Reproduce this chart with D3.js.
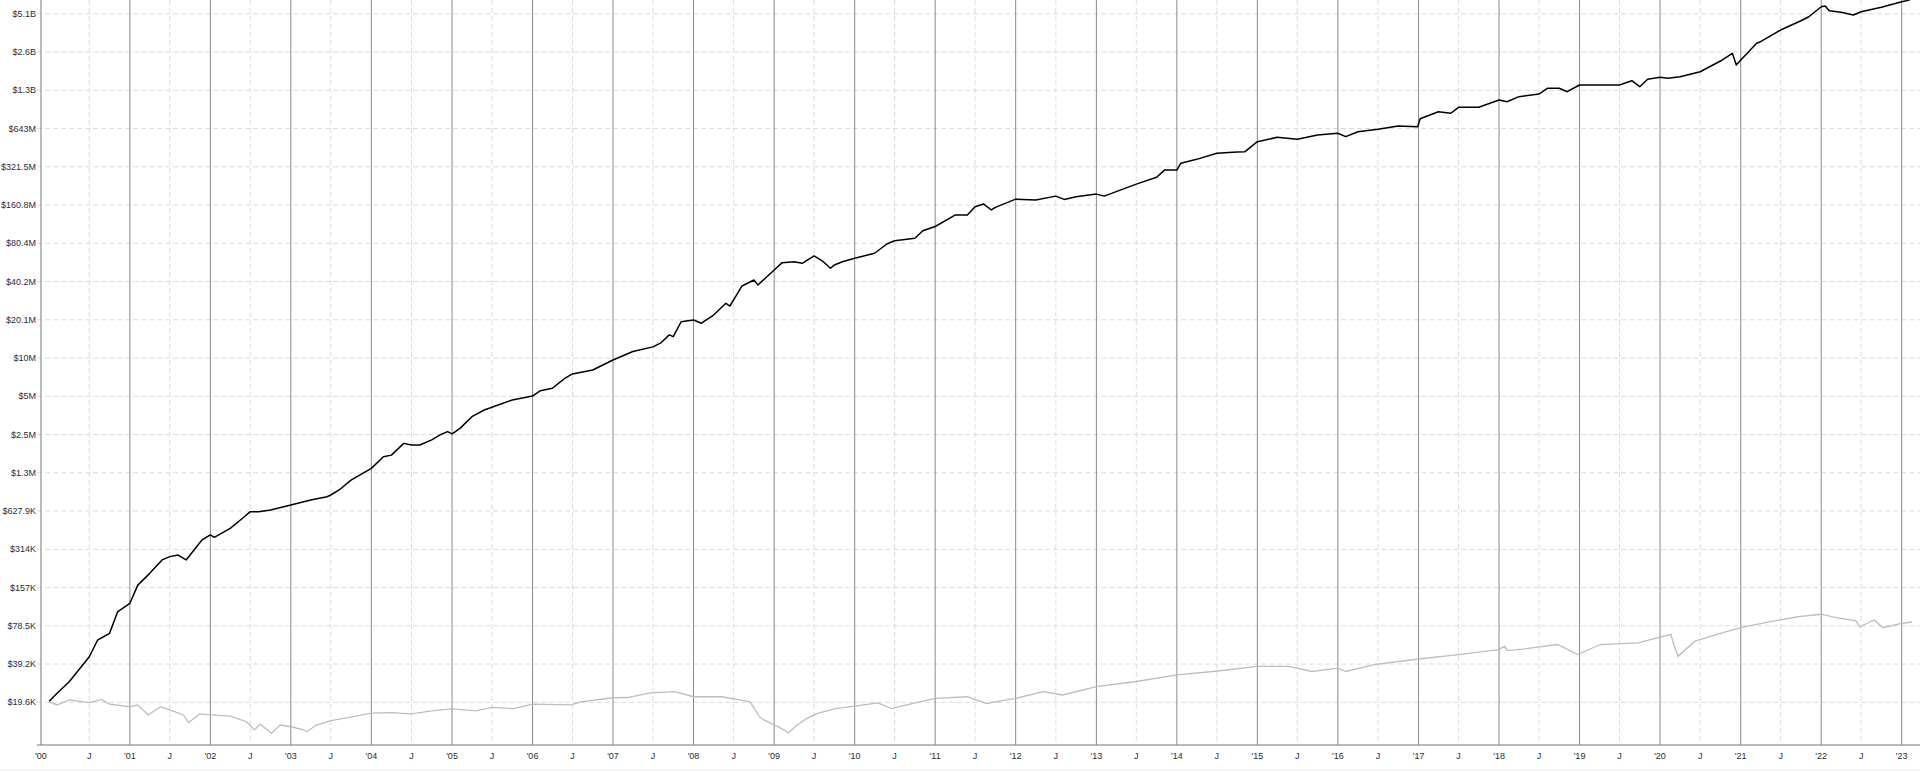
<!DOCTYPE html>
<html>
<head>
<meta charset="utf-8">
<script src="https://cdn.jsdelivr.net/npm/d3@7"></script>
<style>
  body { margin: 0; background: #fff; }
  text { font-family: "Liberation Sans", Arial, sans-serif; font-size: 9px; }
</style>
</head>
<body>
<svg class="svgChart" width="1920" height="771"></svg>
<script>
// y axis: each tick doubles the previous one
const yTickValues = [19623, 39246, 78492, 156984, 313968, 627936, 1255872, 2511744,
  5023488, 10046976, 20093952, 40187904, 80375808, 160751616, 321503232,
  643006464, 1286012928, 2572025856, 5144051712];
const yTickLabels = ['$19.6K', '$39.2K', '$78.5K', '$157K', '$314K', '$627.9K', '$1.3M',
  '$2.5M', '$5M', '$10M', '$20.1M', '$40.2M', '$80.4M', '$160.8M', '$321.5M',
  '$643M', '$1.3B', '$2.6B', '$5.1B'];

// x axis: years with a "J" (July) tick in between
const yearTicks = ['2001-01-01', '2002-01-01', '2003-01-01', '2004-01-01', '2005-01-01',
  '2006-01-01', '2007-01-01', '2008-01-01', '2009-01-01', '2010-01-01', '2011-01-01',
  '2012-01-01', '2013-01-01', '2014-01-01', '2015-01-01', '2016-01-01', '2017-01-01',
  '2018-01-01', '2019-01-01', '2020-01-01', '2021-01-01', '2022-01-01', '2023-01-01'];
const yearLabels = ["'01", "'02", "'03", "'04", "'05", "'06", "'07", "'08", "'09", "'10",
  "'11", "'12", "'13", "'14", "'15", "'16", "'17", "'18", "'19", "'20", "'21", "'22", "'23"];
const firstLabel = "'00";
const julyTicks = ['2000-07-01', '2001-07-01', '2002-07-01', '2003-07-01', '2004-07-01',
  '2005-07-01', '2006-07-01', '2007-07-01', '2008-07-01', '2009-07-01', '2010-07-01',
  '2011-07-01', '2012-07-01', '2013-07-01', '2014-07-01', '2015-07-01', '2016-07-01',
  '2017-07-01', '2018-07-01', '2019-07-01', '2020-07-01', '2021-07-01', '2022-07-01'];
const julyLabel = 'J';

// strategy (black line)
const strategyDates = ['2000-01-01', '2000-02-06', '2000-04-01', '2000-07-01', '2000-08-08',
  '2000-10-01', '2000-11-06', '2001-01-01', '2001-02-06', '2001-04-01', '2001-05-27',
  '2001-07-01', '2001-08-08', '2001-09-13', '2001-10-01', '2001-11-24', '2002-01-01',
  '2002-01-19', '2002-04-01', '2002-05-27', '2002-07-01', '2002-08-08', '2002-10-01',
  '2003-01-01', '2003-04-01', '2003-06-14', '2003-07-01', '2003-08-08', '2003-10-01',
  '2004-01-01', '2004-02-25', '2004-04-01', '2004-05-27', '2004-07-01', '2004-08-08',
  '2004-10-01', '2004-11-06', '2004-12-12', '2005-01-01', '2005-02-06', '2005-04-01',
  '2005-05-27', '2005-07-01', '2005-10-01', '2006-01-01', '2006-02-06', '2006-04-01',
  '2006-05-27', '2006-07-01', '2006-10-01', '2007-01-01', '2007-04-01', '2007-07-01',
  '2007-08-08', '2007-09-13', '2007-10-01', '2007-11-06', '2008-01-01', '2008-02-06',
  '2008-04-01', '2008-05-27', '2008-06-14', '2008-07-01', '2008-08-08', '2008-10-01',
  '2008-10-19', '2009-01-01', '2009-02-06', '2009-04-01', '2009-05-08', '2009-07-01',
  '2009-08-08', '2009-09-13', '2009-10-01', '2009-11-06', '2010-01-01', '2010-04-01',
  '2010-05-27', '2010-07-01', '2010-10-01', '2010-11-06', '2011-01-01', '2011-04-01',
  '2011-05-27', '2011-07-01', '2011-08-08', '2011-09-13', '2011-10-01', '2012-01-01',
  '2012-04-01', '2012-07-01', '2012-08-08', '2012-10-01', '2013-01-01', '2013-02-06',
  '2013-04-01', '2013-07-01', '2013-10-01', '2013-11-06', '2014-01-01', '2014-01-19',
  '2014-04-01', '2014-07-01', '2014-10-01', '2014-11-06', '2015-01-01', '2015-04-01',
  '2015-07-01', '2015-10-01', '2016-01-01', '2016-02-06', '2016-04-01', '2016-07-01',
  '2016-10-01', '2016-12-28', '2017-01-08', '2017-04-01', '2017-05-27', '2017-07-01',
  '2017-10-01', '2018-01-01', '2018-02-06', '2018-04-01', '2018-07-01', '2018-08-08',
  '2018-10-01', '2018-11-06', '2019-01-01', '2019-04-01', '2019-07-01', '2019-08-26',
  '2019-10-01', '2019-11-06', '2020-01-01', '2020-02-06', '2020-04-01', '2020-07-01',
  '2020-10-01', '2020-11-24', '2020-12-12', '2021-01-01', '2021-02-06', '2021-03-14',
  '2021-04-01', '2021-07-01', '2021-10-01', '2021-11-06', '2022-01-01', '2022-01-19',
  '2022-02-06', '2022-04-01', '2022-05-27', '2022-07-01', '2022-10-01', '2023-01-01',
  '2023-02-06'];
const strategyValues = [20000, 23100, 28500, 44800, 60700,
  68500, 101000, 118000, 164000, 203000, 259000,
  275000, 283000, 259000, 283000, 372000, 407000,
  390000, 459000, 551000, 621000, 621000, 640000,
  701000, 767000, 814000, 840000, 920000, 1100000,
  1360000, 1680000, 1730000, 2140000, 2080000, 2080000,
  2280000, 2490000, 2650000, 2540000, 2810000, 3470000,
  3920000, 4120000, 4700000, 5050000, 5560000, 5810000,
  6960000, 7530000, 8090000, 9700000, 11300000, 12300000,
  13300000, 15300000, 14800000, 19400000, 20000000, 18900000,
  21900000, 27100000, 25800000, 28800000, 37100000, 41300000,
  37800000, 49500000, 56600000, 57600000, 55900000, 63900000,
  58300000, 51100000, 54300000, 57600000, 61200000, 67100000,
  79400000, 84200000, 88000000, 101000000, 109000000, 134000000,
  134000000, 156000000, 164000000, 147000000, 154000000, 179000000,
  176000000, 189000000, 178000000, 187000000, 196000000, 189000000,
  205000000, 235000000, 266000000, 303000000, 303000000, 343000000,
  368000000, 411000000, 421000000, 423000000, 507000000, 549000000,
  529000000, 572000000, 590000000, 555000000, 607000000, 634000000,
  674000000, 665000000, 769000000, 873000000, 848000000, 945000000,
  945000000, 1078000000, 1046000000, 1146000000, 1202000000, 1334000000,
  1334000000, 1254000000, 1416000000, 1416000000, 1416000000, 1530000000,
  1373000000, 1570000000, 1628000000, 1597000000, 1645000000, 1801000000,
  2186000000, 2514000000, 2032000000, 2225000000, 2588000000, 3014000000,
  3102000000, 3832000000, 4539000000, 4878000000, 5848000000, 5922000000,
  5437000000, 5281000000, 5031000000, 5340000000, 5783000000, 6399000000,
  6601000000];

// benchmark (grey line)
const benchmarkDates = ['2000-01-01', '2000-02-06', '2000-04-01', '2000-07-01', '2000-08-26',
  '2000-10-01', '2001-01-01', '2001-02-06', '2001-03-25', '2001-05-20', '2001-07-01',
  '2001-09-01', '2001-09-24', '2001-11-14', '2002-01-01', '2002-04-01', '2002-06-14',
  '2002-07-20', '2002-08-15', '2002-10-05', '2002-11-14', '2003-01-01', '2003-02-28',
  '2003-03-14', '2003-04-27', '2003-07-01', '2003-10-01', '2004-01-01', '2004-04-01',
  '2004-07-01', '2004-10-01', '2005-01-01', '2005-04-20', '2005-07-01', '2005-10-08',
  '2006-01-01', '2006-06-25', '2006-08-08', '2007-01-01', '2007-03-07', '2007-06-21',
  '2007-10-08', '2008-01-01', '2008-05-08', '2008-08-04', '2008-09-13', '2008-10-27',
  '2008-11-17', '2009-01-23', '2009-03-07', '2009-04-16', '2009-05-27', '2009-07-13',
  '2009-10-05', '2010-01-01', '2010-04-16', '2010-06-18', '2010-07-31', '2011-01-01',
  '2011-05-27', '2011-08-22', '2011-11-14', '2012-01-01', '2012-05-05', '2012-07-31',
  '2013-01-01', '2013-07-01', '2014-01-01', '2014-06-14', '2015-01-01', '2015-05-23',
  '2015-09-06', '2016-01-01', '2016-02-06', '2016-06-14', '2017-01-01', '2017-07-01',
  '2018-01-01', '2018-01-26', '2018-02-08', '2018-04-27', '2018-09-24', '2018-12-24',
  '2019-04-05', '2019-09-24', '2020-02-19', '2020-03-05', '2020-03-23', '2020-06-07',
  '2020-10-12', '2021-01-01', '2021-05-16', '2021-09-21', '2022-01-01', '2022-03-10',
  '2022-06-07', '2022-06-25', '2022-08-30', '2022-10-08', '2023-01-01', '2023-02-17'];
const benchmarkValues = [19800, 18700, 20500, 19500, 20700,
  19000, 18100, 18700, 15600, 18100, 17100,
  15600, 13600, 15900, 15600, 15300, 13800,
  11900, 13200, 11200, 13000, 12600, 11900,
  11500, 13000, 14100, 15000, 16100, 16300,
  15900, 16800, 17400, 16800, 17900, 17500,
  19000, 18700, 19800, 21300, 21400, 23300,
  23800, 21700, 21700, 20400, 19800, 15100,
  14200, 12500, 11300, 13000, 14600, 16000,
  17500, 18300, 19400, 17500, 18300, 21100,
  21700, 19200, 20400, 21100, 23800, 22400,
  26100, 28600, 32300, 34300, 37600, 37600,
  34300, 36500, 34300, 38800, 43000, 46600,
  51000, 54200, 50000, 51600, 55900, 46600,
  55900, 57700, 67200, 55000, 45200, 59400,
  69300, 75800, 84700, 92700, 96800, 91200,
  85800, 77200, 87300, 75800, 82100, 84100];

/****************** SETUP *********************/
const parseDate = d3.timeParse('%Y-%m-%d');
const plot = { left: 41, right: 1920, top: 0, bottom: 745 };

const svg = d3.select('.svgChart');

const xScale = d3.scaleTime()
  .domain([new Date(1999, 10, 25), new Date(2023, 0, 1)])
  .range([plot.left, 1901.7]);

const yScale = d3.scaleLog()
  .domain([9051, 6.606e9])
  .range([plot.bottom, plot.top]);

const toPoints = (dates, values) => dates.map((d, i) => ({ date: parseDate(d), value: values[i] }));
const strategy = toPoints(strategyDates, strategyValues);
const benchmark = toPoints(benchmarkDates, benchmarkValues);

/****************** GRID *********************/
// horizontal dashed lines at every tick
svg.append('g')
  .attr('class', 'hGrid')
  .selectAll('line')
  .data(yTickValues)
  .join('line')
    .attr('x1', 37)
    .attr('x2', plot.right)
    .attr('y1', d => yScale(d))
    .attr('y2', d => yScale(d))
    .attr('stroke', '#dadada')
    .attr('stroke-dasharray', '5,3');

// July lines, dashed
svg.append('g')
  .attr('class', 'julyGrid')
  .selectAll('line')
  .data(julyTicks.map(parseDate))
  .join('line')
    .attr('x1', d => xScale(d))
    .attr('x2', d => xScale(d))
    .attr('y1', plot.top)
    .attr('y2', plot.bottom)
    .attr('stroke', '#dcdcdc')
    .attr('stroke-dasharray', '5,3');

// year lines, solid
svg.append('g')
  .attr('class', 'yearGrid')
  .selectAll('line')
  .data(yearTicks.map(parseDate))
  .join('line')
    .attr('x1', d => xScale(d))
    .attr('x2', d => xScale(d))
    .attr('y1', plot.top)
    .attr('y2', plot.bottom)
    .attr('stroke', '#8a8a8a')
    .attr('stroke-width', 1);

/****************** LINES *********************/
const line = d3.line()
  .x(d => xScale(d.date))
  .y(d => yScale(d.value));

svg.append('path')
  .datum(benchmark)
  .attr('fill', 'none')
  .attr('stroke', '#bdbdbd')
  .attr('stroke-width', 1.3)
  .attr('d', line);

svg.append('path')
  .datum(strategy)
  .attr('fill', 'none')
  .attr('stroke', '#000')
  .attr('stroke-width', 1.5)
  .attr('stroke-linejoin', 'round')
  .attr('d', line);

/****************** AXES *********************/
// left axis line
svg.append('line')
  .attr('x1', plot.left).attr('x2', plot.left)
  .attr('y1', plot.top).attr('y2', plot.bottom)
  .attr('stroke', '#777');

// bottom axis line
svg.append('line')
  .attr('x1', 37).attr('x2', plot.right)
  .attr('y1', plot.bottom).attr('y2', plot.bottom)
  .attr('stroke', '#777');

// frame line at the very bottom
svg.append('line')
  .attr('x1', 0).attr('x2', 1920)
  .attr('y1', 770).attr('y2', 770)
  .attr('stroke', '#e6e6e6');

// y labels
svg.append('g')
  .attr('class', 'yAxis')
  .selectAll('text')
  .data(yTickValues)
  .join('text')
    .attr('x', 36)
    .attr('y', d => yScale(d))
    .attr('dy', '0.35em')
    .attr('text-anchor', 'end')
    .attr('fill', '#2b2b3b')
    .text((d, i) => yTickLabels[i]);

// x labels
const xLabels = [{ x: plot.left, text: firstLabel, color: '#2b2b2b' }]
  .concat(julyTicks.map(d => ({ x: xScale(parseDate(d)), text: julyLabel, color: '#1c2a6b' })))
  .concat(yearTicks.map((d, i) => ({ x: xScale(parseDate(d)), text: yearLabels[i], color: '#2b2b2b' })));

svg.append('g')
  .attr('class', 'xAxis')
  .selectAll('text')
  .data(xLabels)
  .join('text')
    .attr('x', d => d.x)
    .attr('y', 759)
    .attr('text-anchor', 'middle')
    .attr('fill', d => d.color)
    .text(d => d.text);
</script>
</body>
</html>
